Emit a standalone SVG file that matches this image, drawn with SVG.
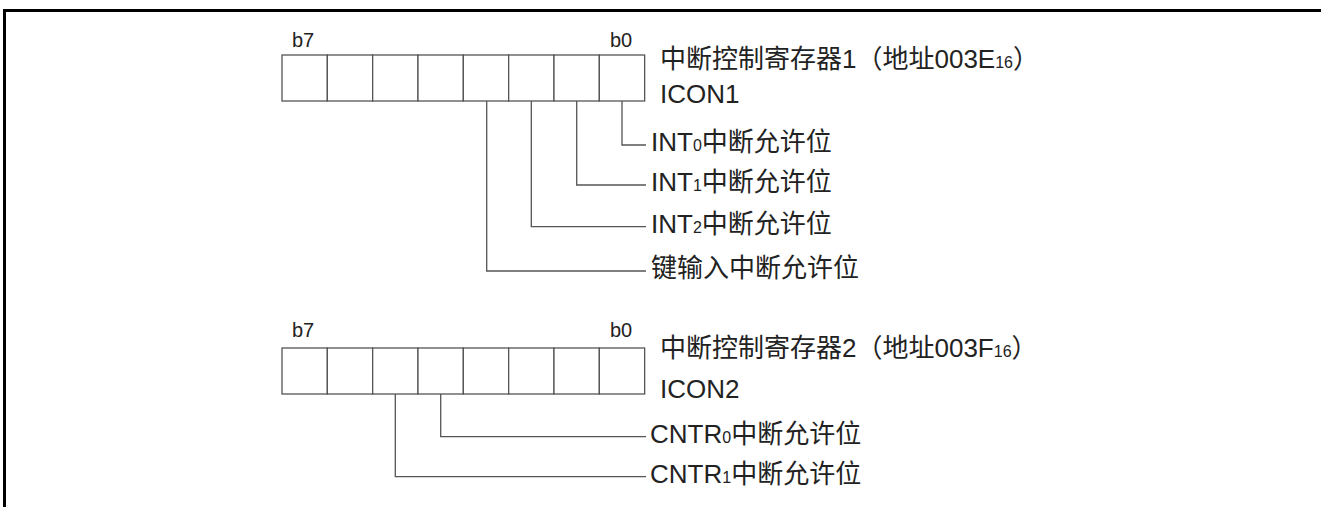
<svg xmlns="http://www.w3.org/2000/svg" width="1321" height="507" viewBox="0 0 1321 507">
<style>
.frame{stroke:#000;stroke-width:3;fill:none}
.cell{fill:#fff;stroke:#555;stroke-width:1.3}
.conn{fill:none;stroke:#555;stroke-width:1.3}
text{font-family:"Liberation Sans","Noto Sans CJK SC",sans-serif;fill:#222}
.bit{font-size:20px}
.lbl{font-size:26px}
.ttl{font-size:26px}
.sub{font-size:16px}
</style>
<defs>
<g id="reg">
<rect class="cell" x="0" y="0" width="45.33" height="46"/>
<rect class="cell" x="45.33" y="0" width="45.33" height="46"/>
<rect class="cell" x="90.67" y="0" width="45.33" height="46"/>
<rect class="cell" x="136" y="0" width="45.33" height="46"/>
<rect class="cell" x="181.33" y="0" width="45.33" height="46"/>
<rect class="cell" x="226.67" y="0" width="45.33" height="46"/>
<rect class="cell" x="272" y="0" width="45.33" height="46"/>
<rect class="cell" x="317.33" y="0" width="45.33" height="46"/>
</g>
</defs>
<rect width="1321" height="507" fill="#fff"/>
<path class="frame" d="M4.5,507 V10.5 H1321"/>

<g id="register1">
<use href="#reg" x="282" y="55"/>
<text class="bit" x="292" y="47">b7</text>
<text class="bit" x="610" y="47">b0</text>
<text class="ttl" x="660" y="68">中断控制寄存器1（地址003E<tspan class="sub">16</tspan>）</text>
<text class="ttl" x="660" y="103">ICON1</text>
</g>

<g id="register2">
<use href="#reg" x="282" y="348"/>
<text class="bit" x="292" y="337">b7</text>
<text class="bit" x="610" y="337">b0</text>
<text class="ttl" x="660" y="357">中断控制寄存器2（地址003F<tspan class="sub">16</tspan>）</text>
<text class="ttl" x="660" y="398">ICON2</text>
</g>

<g id="connectors">
<path class="conn" d="M622,101 V145 H646"/>
<path class="conn" d="M576.7,101 V185 H646"/>
<path class="conn" d="M531.3,101 V226.7 H646"/>
<path class="conn" d="M486.7,101 V271 H646"/>
<path class="conn" d="M440.7,394 V436.7 H646"/>
<path class="conn" d="M395.3,394 V476.7 H646"/>
</g>

<g id="label-int0"><text class="lbl" x="651" y="151">INT<tspan class="sub">0</tspan>中断允许位</text></g>
<g id="label-int1"><text class="lbl" x="651" y="191">INT<tspan class="sub">1</tspan>中断允许位</text></g>
<g id="label-int2"><text class="lbl" x="651" y="233">INT<tspan class="sub">2</tspan>中断允许位</text></g>
<g id="label-key"><text class="lbl" x="651" y="277">键输入中断允许位</text></g>
<g id="label-cntr0"><text class="lbl" x="650" y="443">CNTR<tspan class="sub">0</tspan>中断允许位</text></g>
<g id="label-cntr1"><text class="lbl" x="650" y="483">CNTR<tspan class="sub">1</tspan>中断允许位</text></g>
</svg>
